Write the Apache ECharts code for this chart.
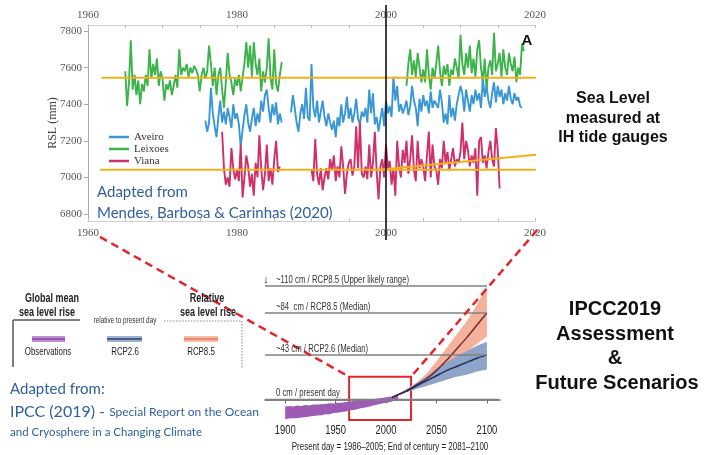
<!DOCTYPE html>
<html>
<head>
<meta charset="utf-8">
<script src="https://cdn.jsdelivr.net/npm/echarts@6/dist/echarts.min.js"></script>
<style>
  html, body { margin: 0; padding: 0; background: #fff; }
  #main { width: 704px; height: 455px; }
</style>
</head>
<body>
<div id="main"></div>
<script>
// ---------- Tide-gauge records (relative sea level, mm), quarterly steps ----------
const stationStep = 0.25;

const leixoesStart1 = 1965.0;
const leixoes1 = [
  7580, 7390, 7520, 7750,  7480, 7560, 7450, 7530,  7400, 7510, 7470, 7560,
  7500, 7700, 7540, 7620,  7560, 7650, 7500, 7580,  7540, 7420, 7510, 7480,
  7530, 7450, 7500, 7560,  7490, 7700, 7560, 7600,  7580, 7620, 7550, 7600,
  7570, 7610, 7590, 7560,  7470, 7560, 7600, 7540,  7580, 7720, 7620, 7500,
  7600, 7450, 7560, 7600,  7480, 7380, 7520, 7680,  7560, 7520, 7450, 7540,
  7500, 7560, 7470, 7550,  7620, 7740, 7600, 7720,  7550, 7740, 7620, 7560,
  7650, 7470, 7580, 7520,  7600, 7760, 7540, 7480,  7700, 7510, 7470, 7560,
  7630
];
const leixoesStart2 = 2002.75;
const leixoes2 = [
  7500,
  7620, 7700, 7560, 7640,  7550, 7680, 7600, 7520,  7590, 7520, 7700, 7560,
  7480, 7600, 7540, 7620,  7720, 7580, 7500, 7610,  7560, 7620, 7500, 7590,
  7560, 7650, 7600, 7540,  7780, 7620, 7560, 7680,  7600, 7720, 7570, 7650,
  7550, 7700, 7750, 7600,  7520, 7650, 7480, 7600,  7640, 7560, 7790, 7580,
  7620, 7680, 7550, 7700,  7600, 7560, 7680, 7620,  7580, 7660, 7520, 7600,
  7560, 7730, 7690
];

const aveiroStart1 = 1975.75;
const aveiro1 = [
  7310,
  7250, 7300, 7490, 7350,  7280, 7220, 7330, 7420,  7300, 7360, 7290, 7380,
  7330, 7270, 7400, 7320,  7350, 7290, 7170, 7260,  7340, 7400, 7300, 7250,
  7320, 7380, 7280, 7350,  7300, 7420, 7360, 7450,  7480, 7380, 7300, 7400,
  7340, 7410, 7290, 7350,
  7300
];
const aveiroStart2 = 1987.25;
const aveiro2 = [
  7355, 7450, 7380,
  7300, 7250, 7350, 7400,  7320, 7490, 7330, 7310,  7620, 7380, 7330, 7420,
  7300, 7360, 7420, 7330,  7280, 7350, 7300, 7260,  7310, 7220, 7330, 7280,
  7400, 7300, 7350, 7440,  7320, 7380, 7300, 7350,  7430, 7320, 7290, 7360,
  7330, 7380, 7300, 7480,  7350, 7460, 7290, 7330,  7250, 7320, 7380, 7280,
  7420, 7350, 7390, 7330,  7550, 7420, 7500, 7360,  7400, 7350, 7380, 7420,
  7340, 7390, 7500, 7420,  7380, 7280, 7430, 7360,  7450, 7390, 7420, 7350,
  7470, 7380, 7420, 7400,  7380, 7480, 7410, 7300,  7350, 7290, 7450, 7330,
  7380, 7310, 7400, 7450,  7500, 7460, 7360, 7480,  7420, 7360, 7450, 7400,
  7480, 7420, 7460, 7380,  7540, 7440, 7500, 7420,  7380, 7460, 7520, 7410,
  7500, 7440, 7480, 7400,  7460, 7420, 7500, 7430,  7400, 7460, 7420, 7440,
  7390, 7380
];

const vianaStart1 = 1978.0;
const viana1 = [
  7250, 7050, 6960, 7000,  6950, 7160, 7050, 6990,  7040, 6980, 7180, 6890,
  7000, 7120, 7060, 6950,  7020, 6900, 7080, 7000,  7230, 7050, 6930, 7020,
  7180, 6980, 7050, 6960,  7100, 7200, 7030, 7060
];
const vianaStart2 = 1990.0;
const viana2 = [
  7040, 6980, 7210, 7020,  6960, 7050, 6930, 7000,  7050, 6990, 7100, 7040,
  7120, 6980, 7060, 7000,  7170, 7060, 6910, 7020,  7080, 7100, 7010, 7060,
  7280, 7050, 7300, 7020,  7000, 7060, 6990, 7180,  7000, 7080, 7250, 7030,
  6880, 7060, 7100, 7000,  7180, 7050, 7090, 6960,  7050, 6900, 7200, 7060,
  7000, 7150, 7080, 7200,  7020, 7100, 7230, 7040,  6980, 7200, 7050, 7100,
  7060, 6980, 7120, 7250,  7000, 7180, 7060, 7040,  6960, 7100, 7050, 7200,
  7080, 7140, 7040, 7100,  7160, 7060, 7100, 7080,  7140, 7300, 7100, 7200,
  7150, 7060, 7120, 7080,  7160, 6900, 7200, 7220,  7080, 7120, 7050, 7140,
  7200, 7100, 7060, 7270,  7150, 6940
];

// Mean levels (mm) and the recent trend line
const leixoesMean = [[1961.8, 7545], [2020.3, 7545]];
const lowerMean   = [[1961.6, 7042], [2020.3, 7042]];
const recentTrend = [[1999.0, 7042], [2020.3, 7125]];

const rslTicks = [6800, 7000, 7200, 7400, 7600, 7800];
const yearLabels = [1960, 1980, 2000, 2020];
const yearTicks = [1960, 1965, 1970, 1975, 1980, 1985, 1990, 1995, 2000, 2005, 2010, 2015, 2020];

// ---------- IPCC SROCC sea level (cm, relative to 1986-2005) ----------
const obsYears = [1900, 1904, 1908, 1912, 1916, 1920, 1924, 1928, 1932, 1936, 1940, 1944, 1948, 1952, 1956,
                  1960, 1964, 1968, 1972, 1976, 1980, 1984, 1988, 1992, 1996, 2000, 2004, 2008, 2012];
const obsUpper = [-7, -6.5, -7, -6, -6.3, -5.5, -5.8, -5, -5, -4.6, -4.5, -3.8, -4, -3.2, -3.3,
                  -2.5, -2.2, -1.5, -1.4, -0.8, -0.5, 0, 0.3, 1, 1.3, 2, 2.5, 3, 4];
const obsLower = [-19, -18.6, -18.2, -18.3, -17.5, -17.3, -16.5, -16.2, -15.6, -15.3, -14.5, -14.4, -13.3, -13, -12.2,
                  -11.8, -10.5, -10.2, -9.3, -8.4, -7.8, -6.8, -5.7, -5, -4, -3.3, -2.6, -1.5, 0];

const projYears   = [2006, 2020, 2030, 2040, 2050, 2060, 2070, 2080, 2090, 2100];
const rcp85Median = [2, 8, 14, 20, 28, 38, 49, 60, 72, 84];
const rcp85Low    = [2, 7, 12, 17, 23, 30, 38, 46, 54, 61];
const rcp85High   = [2, 10, 16, 25, 37, 50, 63, 76, 92, 110];
const rcp26Median = [2, 8, 13, 18, 23, 28, 32, 36, 40, 43];
const rcp26Low    = [2, 7, 10, 13, 16, 19, 22, 24, 27, 29];
const rcp26High   = [2, 9, 16, 22, 30, 36, 42, 47, 52, 56];

const ipccYearLabels = [1900, 1950, 2000, 2050, 2100];
// reference levels: value, label, solid end year, dotted end year
const refLevels = [
  [110, '~110 cm / RCP8.5 (Upper likely range)', 2100, null],
  [84,  '~84  cm / RCP8.5 (Median)', 2100, 2117],
  [43,  '~43 cm / RCP2.6 (Median)', 2100, 2117],
  [0,   '0 cm / present day', 2111, null]
];
const refStart = 1880;
const windowYears = [1963.4, 2024.8];
const windowTop = 22;

// ---------- helpers ----------
const toPoints = (start, vals) => vals.map((v, i) => [start + i * stationStep, v]);
const joinSegments = (a, b) => a.concat([[ (a[a.length - 1][0] + b[0][0]) / 2, null ]], b);
const pairs = (xs, ys) => xs.map((x, i) => [x, ys[i]]);
const plain = (v) => String(v);

const SERIF = "'Liberation Serif', 'DejaVu Serif', serif";
const SANS = "'Liberation Sans', Arial, sans-serif";
const CAL = "Lato, 'Open Sans', sans-serif";
const BLUE_TXT = '#2f5f9e';
const NARROW_SCALE = 0.75;

const chart = echarts.init(document.getElementById('main'), null, { renderer: 'canvas' });

const gaugeLine = (name, color, data) => ({
  name, type: 'line', xAxisIndex: 0, yAxisIndex: 0, data,
  showSymbol: false, connectNulls: false,
  lineStyle: { color, width: 1.9 }, itemStyle: { color }, z: 2
});
const meanLine = (data) => ({
  type: 'line', xAxisIndex: 0, yAxisIndex: 0, data, showSymbol: false,
  lineStyle: { color: '#f2b01a', width: 2 }, z: 4, silent: true
});
// shaded range between two curves, drawn as one polygon in axis coordinates
const bandSeries = (xs, lo, hi, color, z) => ({
  type: 'custom', xAxisIndex: 2, yAxisIndex: 1, z, silent: true,
  data: [[xs[0], lo[0]]],
  renderItem: (params, api) => {
    const upper = xs.map((x, i) => api.coord([x, hi[i]]));
    const lower = xs.map((x, i) => api.coord([x, lo[i]])).reverse();
    return { type: 'polygon', shape: { points: upper.concat(lower) }, style: { fill: color } };
  }
});

const refMarkData = [];
refLevels.forEach(([v, text, solidEnd, dotEnd]) => {
  refMarkData.push([{ coord: [refStart, v] }, { coord: [solidEnd, v] }]);
  if (dotEnd) {
    refMarkData.push([
      { coord: [solidEnd, v], lineStyle: { type: [2, 2], width: 1, color: '#888' } },
      { coord: [dotEnd, v] }
    ]);
  }
});

const option = {
  animation: false,
  backgroundColor: '#ffffff',
  grid: [
    { left: 88, top: 25, width: 447, height: 196 },
    { left: 265, top: 281, width: 235, height: 139 }
  ],
  xAxis: [
    { gridIndex: 0, type: 'value', min: 1960, max: 2020, position: 'bottom',
      axisLine: { lineStyle: { color: '#cfcfcf', width: 1 } },
      axisTick: { inside: true, length: 3, customValues: yearTicks, lineStyle: { color: '#bbb' } },
      axisLabel: { customValues: yearLabels, formatter: plain, margin: 7, fontFamily: SERIF, fontSize: 11, color: '#555' },
      splitLine: { show: false } },
    { gridIndex: 0, type: 'value', min: 1960, max: 2020, position: 'top',
      axisLine: { lineStyle: { color: '#cfcfcf', width: 1 } },
      axisTick: { inside: true, length: 3, customValues: yearTicks, lineStyle: { color: '#bbb' } },
      axisLabel: { customValues: yearLabels, formatter: plain, margin: 4, fontFamily: SERIF, fontSize: 11, color: '#555' },
      splitLine: { show: false } },
    { gridIndex: 1, type: 'value', min: 1880, max: 2113,
      axisLine: { lineStyle: { color: '#666', width: 1.5 } },
      axisTick: { length: 4, customValues: ipccYearLabels, lineStyle: { color: '#666' } },
      axisLabel: { show: false },
      splitLine: { show: false } }
  ],
  yAxis: [
    { gridIndex: 0, type: 'value', min: 6762, max: 7833,
      name: 'RSL (mm)', nameLocation: 'middle', nameGap: 29, nameRotate: 90, nameMoveOverlap: false,
      nameTextStyle: { fontFamily: SERIF, fontSize: 12, color: '#444' },
      axisLine: { show: true, lineStyle: { color: '#aaa', width: 1 } },
      axisTick: { show: true, length: 4, customValues: rslTicks, lineStyle: { color: '#aaa' } },
      axisLabel: { customValues: rslTicks, formatter: plain, margin: 6, fontFamily: SERIF, fontSize: 11, color: '#555' },
      splitLine: { show: false } },
    { gridIndex: 1, type: 'value', min: -20, max: 115, show: false, splitLine: { show: false } }
  ],
  legend: {
    data: ['Aveiro', 'Leixoes', 'Viana'], orient: 'vertical', left: 104, top: 126,
    icon: 'rect', itemWidth: 20, itemHeight: 2.5, itemGap: 0, selectedMode: false,
    textStyle: { fontFamily: SERIF, fontSize: 11, color: '#333', lineHeight: 12 }
  },
  series: [
    gaugeLine('Leixoes', '#3cb34b', joinSegments(toPoints(leixoesStart1, leixoes1), toPoints(leixoesStart2, leixoes2))),
    gaugeLine('Aveiro', '#3a97d6', joinSegments(toPoints(aveiroStart1, aveiro1), toPoints(aveiroStart2, aveiro2))),
    gaugeLine('Viana', '#cf2f6b', joinSegments(toPoints(vianaStart1, viana1), toPoints(vianaStart2, viana2))),
    meanLine(leixoesMean),
    meanLine(lowerMean),
    meanLine(recentTrend),

    // reference levels (0 cm line drawn by the series itself)
    { type: 'line', xAxisIndex: 2, yAxisIndex: 1, data: [[refStart, 0], [2111, 0]], showSymbol: false,
      lineStyle: { color: '#808080', width: 1.5 }, silent: true, z: 1,
      markLine: {
        silent: true, symbol: ['none', 'none'], animation: false,
        lineStyle: { color: '#808080', width: 1.5, type: 'solid' },
        label: { show: false },
        data: refMarkData
      } },

    bandSeries(projYears, rcp85Low, rcp85High, '#f5b19c', 2),
    bandSeries(projYears, rcp26Low, rcp26High, '#8ea4c8', 3),
    { type: 'line', xAxisIndex: 2, yAxisIndex: 1, data: pairs(projYears, rcp85Median), smooth: 0.25,
      showSymbol: false, lineStyle: { color: '#7a2a2e', width: 1.5 }, silent: true, z: 4 },
    { type: 'line', xAxisIndex: 2, yAxisIndex: 1, data: pairs(projYears, rcp26Median), smooth: 0.25,
      showSymbol: false, lineStyle: { color: '#1f2b58', width: 1.5 }, silent: true, z: 4 },
    bandSeries(obsYears, obsLower, obsUpper, '#9d5bb3', 4),

    // highlighted window (1960-2020 detail)
    { type: 'line', xAxisIndex: 2, yAxisIndex: 1, data: [[windowYears[0], windowTop]], showSymbol: false,
      lineStyle: { opacity: 0 }, silent: true, z: 6,
      markArea: { silent: true,
        itemStyle: { color: 'rgba(0,0,0,0)', borderColor: '#e3262b', borderWidth: 2 },
        data: [[{ coord: [windowYears[0], -20] }, { coord: [windowYears[1], windowTop] }]] } }
  ]
};

chart.setOption(option);

// ---------- annotations placed from axis coordinates ----------
const topPt = (x, y) => chart.convertToPixel({ xAxisIndex: 0, yAxisIndex: 0 }, [x, y]);
const ipccPt = (x, y) => chart.convertToPixel({ xAxisIndex: 2, yAxisIndex: 1 }, [x, y]);

const x2000 = topPt(2000, 7000)[0];
const leftTop = topPt(1961.6, 6675);
const rightTop = topPt(2020.3, 6713);
const leftBottom = ipccPt(windowYears[0], windowTop);
const rightBottom = ipccPt(windowYears[1], windowTop);
const ipccAxisY = ipccPt(1900, -20)[1];

const txt = (id, x, y, text, font, fill, align, scaleX) => ({
  id, type: 'text', x, y, z: 50, silent: true, scaleX: scaleX || 1,
  style: { text, font, fill: fill || '#111', align: align || 'center', verticalAlign: 'middle' }
});
const seg = (id, x1, y1, x2, y2, stroke, lineWidth, lineDash) => ({
  id, type: 'line', z: 40, silent: true,
  shape: { x1, y1, x2, y2 },
  style: { stroke, lineWidth, lineDash: lineDash || null }
});
const NS = NARROW_SCALE;

const graphics = [
  // top chart extras
  seg('y2000', x2000, 5, x2000, 240, '#111', 1.6),
  txt('panelA', 527, 41, 'A', 'bold 15px ' + SANS, '#111'),
  txt('src1', 97, 192, 'Adapted from', '15px ' + CAL, BLUE_TXT, 'left'),
  txt('src2', 97, 213, 'Mendes, Barbosa & Carinhas (2020)', '15px ' + CAL, BLUE_TXT, 'left'),

  // right-hand captions
  txt('cap1', 613, 99, 'Sea Level', 'bold 16px ' + SANS),
  txt('cap2', 613, 119, 'measured at', 'bold 16px ' + SANS),
  txt('cap3', 613, 138, 'IH tide gauges', 'bold 16px ' + SANS),
  txt('cap4', 615, 309, 'IPCC2019', 'bold 20px ' + SANS),
  txt('cap5', 615, 334, 'Assessment', 'bold 20px ' + SANS),
  txt('cap6', 615, 358, '&', 'bold 20px ' + SANS),
  txt('cap7', 617, 383, 'Future Scenarios', 'bold 20px ' + SANS),

  // IPCC key
  txt('k1', 52, 299, 'Global mean', 'bold 12px ' + SANS, '#222', 'center', NS),
  txt('k2', 47, 313, 'sea level rise', 'bold 12px ' + SANS, '#222', 'center', NS),
  txt('k3', 207, 299, 'Relative', 'bold 12px ' + SANS, '#222', 'center', NS),
  txt('k4', 208, 313, 'sea level rise', 'bold 12px ' + SANS, '#222', 'center', NS),
  seg('k5', 13, 320, 80, 320, '#555', 1.5),
  seg('k6', 13, 320, 13, 367, '#555', 1.5),
  txt('k7', 125, 321, 'relative to present day', '8.5px ' + SANS, '#333', 'center', NS),
  seg('k8', 164, 321, 242, 321, '#888', 1, [1.5, 1.5]),
  seg('k9', 242, 321, 242, 368, '#888', 1, [1.5, 1.5]),
  { id: 'sw1', type: 'rect', z: 40, silent: true, shape: { x: 32, y: 336, width: 33, height: 6 }, style: { fill: '#bd8fd0' } },
  seg('sw1l', 32, 339, 65, 339, '#9a50b0', 2),
  { id: 'sw2', type: 'rect', z: 40, silent: true, shape: { x: 107, y: 336, width: 35, height: 6 }, style: { fill: '#9fb2d2' } },
  seg('sw2l', 107, 339, 142, 339, '#2d3e6e', 1.5),
  { id: 'sw3', type: 'rect', z: 40, silent: true, shape: { x: 184, y: 336, width: 34, height: 6 }, style: { fill: '#f8bba5' } },
  seg('sw3l', 184, 339, 218, 339, '#e4795a', 1.5),
  txt('k10', 48, 352, 'Observations', '10.5px ' + SANS, '#222', 'center', NS),
  txt('k11', 125, 352, 'RCP2.6', '10.5px ' + SANS, '#222', 'center', NS),
  txt('k12', 201, 352, 'RCP8.5', '10.5px ' + SANS, '#222', 'center', NS),

  // IPCC source
  txt('s1', 10, 389, 'Adapted from:', '15px ' + CAL, BLUE_TXT, 'left'),
  { id: 's2', type: 'text', x: 10, y: 412, z: 50, silent: true,
    style: { text: '{a|IPCC (2019) - }{b|Special Report on the Ocean}',
      verticalAlign: 'middle', align: 'left',
      rich: { a: { font: '16px ' + CAL, fill: BLUE_TXT }, b: { font: '12px ' + CAL, fill: BLUE_TXT } } } },
  txt('s3', 10, 432, 'and Cryosphere in a Changing Climate', '11.5px ' + CAL, BLUE_TXT, 'left'),

  // IPCC panel extras
  txt('arrow', 266, 280, '\u2193', '11px ' + SANS, '#222'),
  txt('caption', 390, 447, 'Present day = 1986\u20132005; End of century = 2081\u20132100', '10.5px ' + SANS, '#222', 'center', 0.76),

  // connectors between the two panels
  seg('c1', leftTop[0], leftTop[1], leftBottom[0], leftBottom[1], '#e3262b', 2.5, [8, 5]),
  seg('c2', rightTop[0], rightTop[1], rightBottom[0], rightBottom[1], '#e3262b', 2.5, [8, 5])
];

// reference-level captions sit just above their lines
refLevels.forEach(([v, text], i) => {
  const p = ipccPt(refStart, v);
  graphics.push(txt('ref' + i, p[0] + 11, p[1] - 6, text, '10.5px ' + SANS, '#333', 'left', 0.74));
});
// year labels under the IPCC time axis
ipccYearLabels.forEach((yr, i) => {
  const p = ipccPt(yr, -20);
  graphics.push(txt('yr' + i, p[0], ipccAxisY + 11, String(yr), '12px ' + SANS, '#222', 'center', 0.78));
});

chart.setOption({ graphic: { elements: graphics } });
</script>
</body>
</html>
